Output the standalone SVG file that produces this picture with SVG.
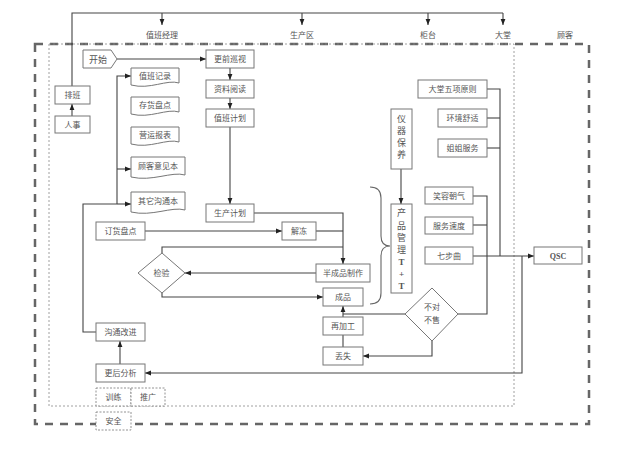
<svg xmlns="http://www.w3.org/2000/svg" width="640" height="453" viewBox="0 0 640 453">
<style>
text{font-family:"Liberation Serif","Noto Sans CJK SC",serif;font-size:8px;fill:#555;text-anchor:middle}
.b{fill:#fff;stroke:#777;stroke-width:1}
.c{fill:none;stroke:#444;stroke-width:1.1}
.d{fill:#fff;stroke:#777;stroke-width:0.8;stroke-dasharray:2 1.5}
</style>
<defs>
<marker id="a" viewBox="0 0 10 10" refX="10" refY="5" markerWidth="6" markerHeight="6" orient="auto" markerUnits="userSpaceOnUse"><path d="M0,1 L10,5 L0,9 z" fill="#222"/></marker>
</defs>
<rect width="640" height="453" fill="#fff"/>
<g id="frames">
<rect x="35" y="44" width="554" height="380" fill="none" stroke="#666" stroke-width="2.5" stroke-dasharray="8 7"/>
<rect x="49" y="44" width="465" height="362" fill="none" stroke="#888" stroke-width="0.8" stroke-dasharray="2 2"/>
</g>
<g id="labels">
<text x="162" y="38">值班经理</text>
<text x="302" y="38">生产区</text>
<text x="428" y="38">柜台</text>
<text x="503" y="38">大堂</text>
<text x="565" y="38">顾客</text>
</g>
<g id="connectors" class="c">
<path d="M72,86 V13 H503"/>
<path d="M162,13 V25" marker-end="url(#a)"/>
<path d="M302,13 V25" marker-end="url(#a)"/>
<path d="M428,13 V25" marker-end="url(#a)"/>
<path d="M503,13 V25" marker-end="url(#a)"/>
<path d="M72,116 V104" marker-end="url(#a)"/>
<path d="M117,59 H206" marker-end="url(#a)"/>
<path d="M230,68 V80" marker-end="url(#a)"/>
<path d="M230,98 V109" marker-end="url(#a)"/>
<path d="M230,127 V204" marker-end="url(#a)"/>
<path d="M117,204 V76 H131" marker-end="url(#a)"/>
<path d="M117,169 H131" marker-end="url(#a)"/>
<path d="M117,204 H131" marker-end="url(#a)"/>
<path d="M96,332 H83 V204 H117"/>
<path d="M145,231 H282" marker-end="url(#a)"/>
<path d="M254,213 H343 V264" marker-end="url(#a)"/>
<path d="M316,231 H343"/>
<path d="M162,253 V247 H343"/>
<path d="M316,273 H185" marker-end="url(#a)"/>
<path d="M162,293 V297 H323" marker-end="url(#a)"/>
<path d="M343,317 V306" marker-end="url(#a)"/>
<path d="M405,314 H343"/>
<path d="M343,347 V335"/>
<path d="M432,341 V356 H363" marker-end="url(#a)"/>
<path d="M458,314 H487 V196 H473"/>
<path d="M473,225 H487"/>
<path d="M473,256 H534" marker-end="url(#a)"/>
<path d="M487,89 H500 V256"/>
<path d="M487,118 H500"/>
<path d="M487,148 H500"/>
<path d="M522,256 V373 H145" marker-end="url(#a)"/>
<path d="M120,364 V341" marker-end="url(#a)"/>
<path d="M401,169 V204" marker-end="url(#a)"/>
<path d="M370,187 Q381,187 381,198 V236 Q381,246 390,246 Q381,246 381,256 V293 Q381,304 370,304" stroke="#666"/>
</g>
<g id="n-start"><path class="b" d="M83,50 H111 L117,59 L111,68 H83 Z"/><text x="98" y="62.5" style="font-size:9px">开始</text></g>
<g id="n-paiban"><rect class="b" x="55" y="86" width="35" height="18"/><text x="72.5" y="98">排班</text></g>
<g id="n-renshi"><rect class="b" x="55" y="116" width="35" height="17"/><text x="72.5" y="127.5">人事</text></g>
<g id="n-gqxs"><rect class="b" x="206" y="50" width="48" height="18"/><text x="230" y="62">更前巡视</text></g>
<g id="n-zlyd"><rect class="b" x="206" y="80" width="48" height="18"/><text x="230" y="92">资料阅读</text></g>
<g id="n-zbjh"><rect class="b" x="206" y="109" width="48" height="18"/><text x="230" y="121">值班计划</text></g>
<g id="n-scjh"><rect class="b" x="206" y="204" width="48" height="18"/><text x="230" y="216">生产计划</text></g>
<g id="n-zbjl"><path class="b" d="M131,68 H179 V83 C167,79 150,90 131,85 Z"/><text x="155" y="79">值班记录</text></g>
<g id="n-chpd"><path class="b" d="M131,97 H179 V112 C167,108 150,119 131,114 Z"/><text x="155" y="108">存货盘点</text></g>
<g id="n-yybb"><path class="b" d="M131,127 H179 V142 C167,138 150,149 131,144 Z"/><text x="155" y="138">营运报表</text></g>
<g id="n-gkyjb"><path class="b" d="M131,157 H185 V175 C172,171 152,182 131,177 Z"/><text x="158" y="169">顾客意见本</text></g>
<g id="n-qtgtb"><path class="b" d="M131,192 H185 V210 C172,206 152,217 131,212 Z"/><text x="158" y="204">其它沟通本</text></g>
<g id="n-dhpd"><rect class="b" x="96" y="222" width="49" height="18"/><text x="120.5" y="234">订货盘点</text></g>
<g id="n-jd"><rect class="b" x="282" y="222" width="34" height="18"/><text x="299" y="234">解冻</text></g>
<g id="n-jy"><path class="b" d="M162,253 L185,273 L162,293 L138,273 Z"/><text x="161.5" y="276">检验</text></g>
<g id="n-bcp"><rect class="b" x="316" y="264" width="54" height="18"/><text x="343" y="276">半成品制作</text></g>
<g id="n-cp"><rect class="b" x="323" y="288" width="40" height="18"/><text x="343" y="300">成品</text></g>
<g id="n-zjg"><rect class="b" x="323" y="317" width="40" height="18"/><text x="343" y="329">再加工</text></g>
<g id="n-ds"><rect class="b" x="323" y="347" width="40" height="18"/><text x="343" y="359">丢失</text></g>
<g id="n-bdbs"><path class="b" d="M432,288 L458,314 L432,341 L405,314 Z"/><text x="432" y="310">不对</text><text x="432" y="323">不售</text></g>
<g id="n-yqby"><rect class="b" x="391" y="109" width="21" height="60"/><text x="401.5" y="122" style="font-size:9px">仪</text><text x="401.5" y="134" style="font-size:9px">器</text><text x="401.5" y="146" style="font-size:9px">保</text><text x="401.5" y="158" style="font-size:9px">养</text></g>
<g id="n-cpgl"><rect class="b" x="391" y="204" width="21" height="89"/><text x="401.5" y="216" style="font-size:9px">产</text><text x="401.5" y="229" style="font-size:9px">品</text><text x="401.5" y="241" style="font-size:9px">管</text><text x="401.5" y="253" style="font-size:9px">理</text><text x="401.5" y="265" style="font-size:9px;font-weight:bold">T</text><text x="401.5" y="277" style="font-size:9px;font-weight:bold">+</text><text x="401.5" y="289" style="font-size:9px;font-weight:bold">T</text></g>
<g id="n-dtwx"><rect class="b" x="418" y="80" width="69" height="18"/><text x="452.5" y="92">大堂五项原则</text></g>
<g id="n-hjss"><rect class="b" x="438" y="109" width="49" height="18"/><text x="462.5" y="121">环境舒适</text></g>
<g id="n-jjfw"><rect class="b" x="438" y="139" width="49" height="18"/><text x="462.5" y="151">姐姐服务</text></g>
<g id="n-xrcq"><rect class="b" x="425" y="187" width="48" height="17"/><text x="449" y="198.5">笑容朝气</text></g>
<g id="n-fwsd"><rect class="b" x="425" y="217" width="48" height="17"/><text x="449" y="228.5">服务速度</text></g>
<g id="n-qbq"><rect class="b" x="425" y="247" width="48" height="17"/><text x="449" y="258.5">七步曲</text></g>
<g id="n-qsc"><rect class="b" x="534" y="247" width="48" height="17"/><text x="558" y="258.5" style="font-weight:bold">QSC</text></g>
<g id="n-gtgj"><rect class="b" x="96" y="323" width="49" height="18"/><text x="120.5" y="335">沟通改进</text></g>
<g id="n-ghfx"><rect class="b" x="96" y="364" width="49" height="18"/><text x="120.5" y="376">更后分析</text></g>
<g id="n-xl"><rect class="d" x="96" y="388" width="35" height="18"/><text x="113.5" y="400">训练</text></g>
<g id="n-tg"><rect class="d" x="131" y="388" width="34" height="18"/><text x="148" y="400">推广</text></g>
<g id="n-aq"><rect class="d" x="96" y="412" width="35" height="18"/><text x="113.5" y="424">安全</text></g>
</svg>
